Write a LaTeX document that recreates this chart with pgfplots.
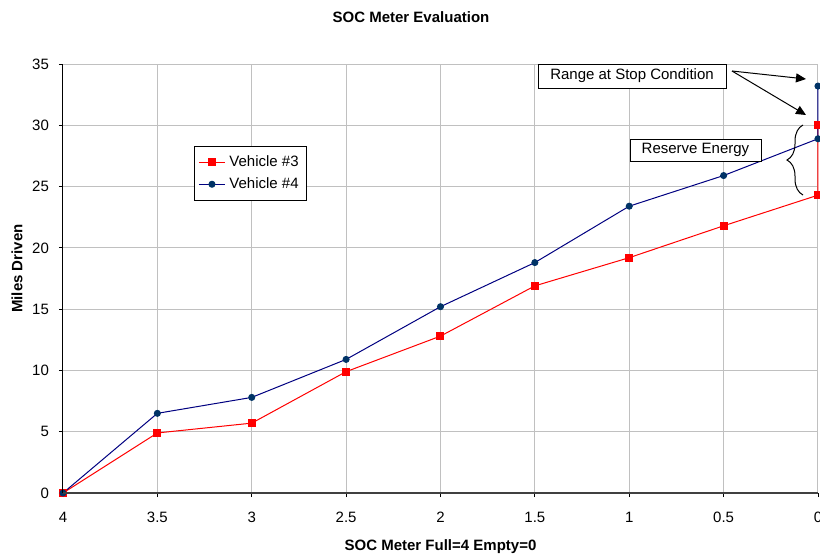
\documentclass[border=0pt]{standalone}
\usepackage{fontspec}
\setmainfont{Liberation Sans}
\usepackage{pgfplots}
\pgfplotsset{compat=1.18}
\usetikzlibrary{decorations.pathreplacing,arrows.meta}
\definecolor{gridc}{RGB}{192,192,192}
\definecolor{vthree}{RGB}{255,0,0}
\definecolor{vfour}{RGB}{0,0,128}
\definecolor{vfourm}{RGB}{0,51,102}
\begin{document}
\begin{tikzpicture}[font=\fontsize{7.5}{9}\selectfont]
\begin{axis}[
 at={(0,0)}, anchor=south west,
 scale only axis, width=377.5pt, height=214.5pt,
 xmin=0, xmax=4, ymin=0, ymax=35,
 x dir=reverse,
 clip=false,
 xtick={0,0.5,1,1.5,2,2.5,3,3.5,4},
 xticklabels={0,0.5,1,1.5,2,2.5,3,3.5,4},
 ytick={0,5,10,15,20,25,30,35},
 axis line style={draw=none},
 xtick pos=bottom, ytick pos=left,
 grid=major,
 major grid style={draw=gridc, line width=0.5pt},
 tick align=outside,
 major tick length=2pt,
 tick style={black, line width=0.4pt},
 /pgf/number format/assume math mode=true,
 ticklabel style={font=\fontsize{7.5}{9}\selectfont},
 yticklabel style={xshift=-1.5pt},
 xticklabel style={yshift=-4pt},
 legend style={at={(0.1735,0.809)}, anchor=north west, draw=black, line width=0.5pt, fill=white,
   font=\fontsize{7.5}{9}\selectfont, row sep=0pt, inner xsep=2pt, inner ysep=2.5pt},
 legend cell align=left,
 legend image code/.code={\draw[mark repeat=2,mark phase=2] plot coordinates {(0pt,0pt) (6.5pt,0pt) (13pt,0pt)};},
]
\addplot[vthree, line width=0.5pt, mark=square*, mark size=1.75pt, mark options={fill=vthree, draw=vthree}]
 coordinates {(4,0) (3.5,4.9) (3,5.7) (2.5,9.9) (2,12.8) (1.5,16.9) (1,19.2) (0.5,21.8) (0,24.3) (0,30.0)};
\addlegendentry{Vehicle \#3}
\addplot[vfour, line width=0.5pt, mark=*, mark size=1.5pt, mark options={fill=vfourm, draw=vfourm}]
 coordinates {(4,0) (3.5,6.5) (3,7.8) (2.5,10.9) (2,15.2) (1.5,18.8) (1,23.4) (0.5,25.9) (0,28.9) (0,33.2)};
\addlegendentry{Vehicle \#4}
\end{axis}
\draw[black, line width=0.5pt] (0,0) -- (0,214.5pt);
\draw[black!75, line width=0.8pt] (0,0) -- (377.5pt,0);
\node[font=\fontsize{7.5}{9}\selectfont\bfseries] at (174pt,238pt) {SOC Meter Evaluation};
\node[font=\fontsize{7.5}{9}\selectfont\bfseries] at (188.75pt,-27pt) {SOC Meter Full=4 Empty=0};
\node[font=\fontsize{7.5}{9}\selectfont\bfseries, rotate=90] at (-23pt,112.25pt) {Miles Driven};
\node[draw=black, line width=0.5pt, fill=white, minimum width=94pt, minimum height=12pt, inner sep=0pt] at (284.5pt,208.5pt) {Range at Stop Condition};
\node[draw=black, line width=0.5pt, fill=white, minimum width=65.5pt, minimum height=11pt, inner sep=0pt] at (316.25pt,171.5pt) {Reserve Energy};
\draw[line width=0.5pt, -{Triangle[length=5pt,width=4.5pt]}] (334.5pt,211pt) -- (371.5pt,207pt);
\draw[line width=0.5pt, -{Triangle[length=5pt,width=4.5pt]}] (334.5pt,211pt) -- (371.5pt,189pt);
\draw[line width=0.5pt, decorate, decoration={brace, amplitude=8pt}] (370pt,149pt) -- (370pt,184pt);
\pgfresetboundingbox
\path (-31.5pt,-30.5pt) rectangle (378.5pt,246.5pt);
\end{tikzpicture}
\end{document}
